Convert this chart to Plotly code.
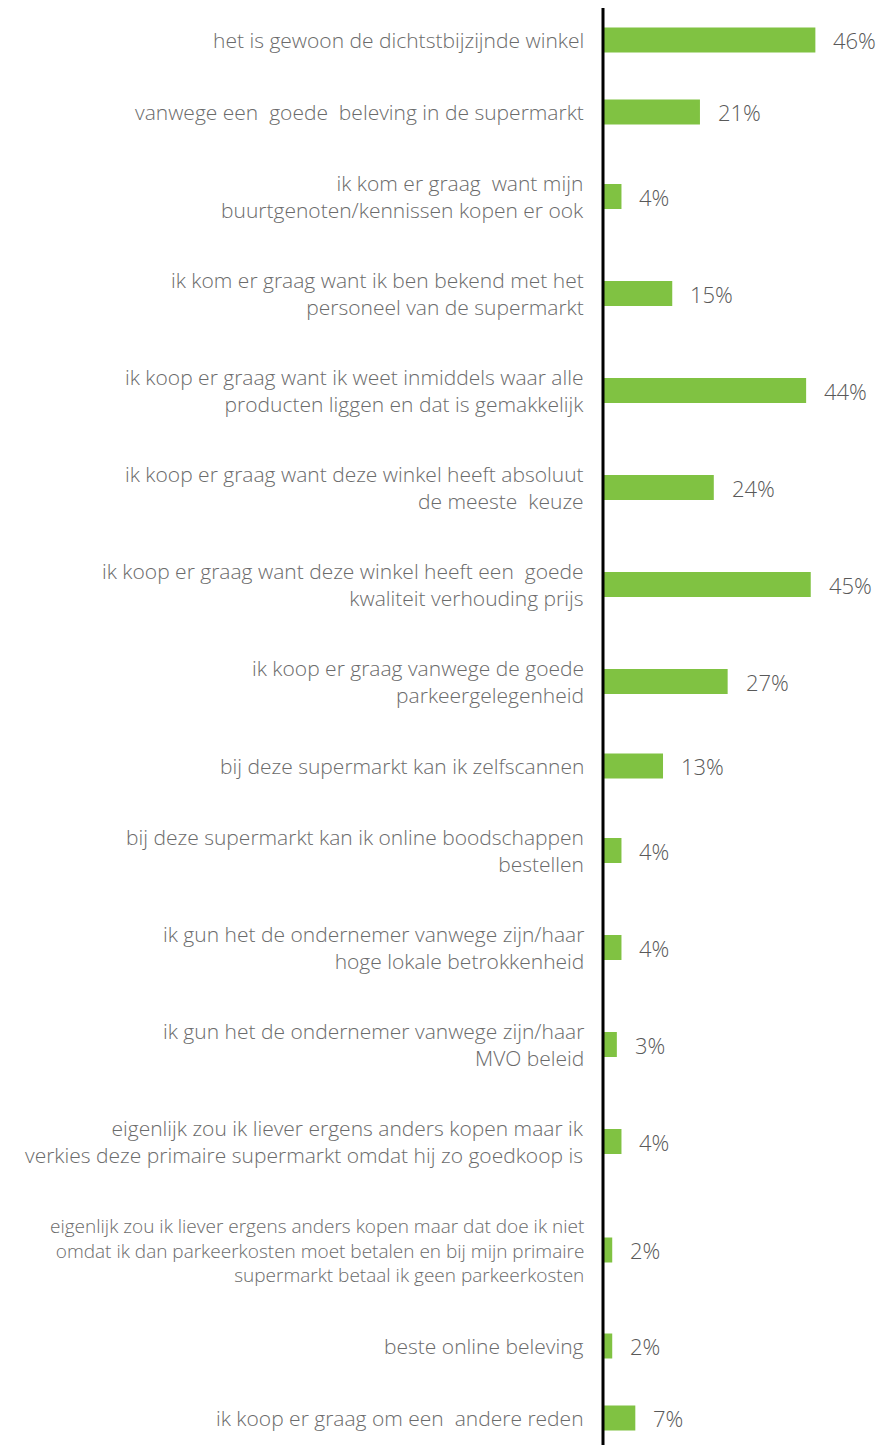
import plotly.graph_objects as go

# Reasons for choosing the primary supermarket (share of respondents, %)
reasons = [
    "het is gewoon de dichtstbijzijnde winkel",
    "vanwege een  goede  beleving in de supermarkt",
    "ik kom er graag  want mijn<br>buurtgenoten/kennissen kopen er ook",
    "ik kom er graag want ik ben bekend met het<br>personeel van de supermarkt",
    "ik koop er graag want ik weet inmiddels waar alle<br>producten liggen en dat is gemakkelijk",
    "ik koop er graag want deze winkel heeft absoluut<br>de meeste  keuze",
    "ik koop er graag want deze winkel heeft een  goede<br>kwaliteit verhouding prijs",
    "ik koop er graag vanwege de goede<br>parkeergelegenheid",
    "bij deze supermarkt kan ik zelfscannen",
    "bij deze supermarkt kan ik online boodschappen<br>bestellen",
    "ik gun het de ondernemer vanwege zijn/haar<br>hoge lokale betrokkenheid",
    "ik gun het de ondernemer vanwege zijn/haar<br>MVO beleid",
    "eigenlijk zou ik liever ergens anders kopen maar ik<br>verkies deze primaire supermarkt omdat hij zo goedkoop is",
    "eigenlijk zou ik liever ergens anders kopen maar dat doe ik niet<br>omdat ik dan parkeerkosten moet betalen en bij mijn primaire<br>supermarkt betaal ik geen parkeerkosten",
    "beste online beleving",
    "ik koop er graag om een  andere reden",
]
shares = [46, 21, 4, 15, 44, 24, 45, 27, 13, 4, 4, 3, 4, 2, 2, 7]

GREEN = "#80C242"
LABEL_GREY = "#6b6b6b"
VALUE_GREY = "#595959"
FONT = "Open Sans"

# Row height grows with the number of text lines in the label
row_h = {1: 1.0, 2: 97 / 72, 3: 120 / 72}
lines = [r.count("<br>") + 1 for r in reasons]
pos = [0.0]
for a, b in zip(lines[:-1], lines[1:]):
    pos.append(pos[-1] + (row_h[a] + row_h[b]) / 2)

H, W = 1445, 880
px_per_row = 72.0
top_pad = 40 / px_per_row
y_range = [H / px_per_row - top_pad, -top_pad]

# Horizontal scale: leave a few pixels left of zero so the axis line is not clipped
left_margin = 596
px_per_pct = 277 / 60
x_min = -(603 - left_margin) / px_per_pct

fig = go.Figure(
    go.Bar(
        x=shares,
        y=pos,
        orientation="h",
        marker=dict(color=GREEN, line=dict(width=0)),
        width=25 / px_per_row,
        hoverinfo="skip",
    )
)

annotations = []
for r, n, y, v in zip(reasons, lines, pos, shares):
    annotations.append(dict(
        x=0, xref="x", y=y, yref="y", text=r, showarrow=False,
        xanchor="right", yanchor="middle", align="right", xshift=-17,
        font=dict(family=FONT, size=21 if n < 3 else 19, color=LABEL_GREY, weight=300),
    ))
    annotations.append(dict(
        x=v, xref="x", y=y, yref="y", text=f"{v}%", showarrow=False,
        xanchor="left", yanchor="middle", xshift=16,
        font=dict(family=FONT, size=22, color=VALUE_GREY, weight=300),
    ))

fig.update_layout(
    width=W, height=H,
    margin=dict(l=left_margin, r=0, t=0, b=0),
    paper_bgcolor="white", plot_bgcolor="white",
    showlegend=False,
    xaxis=dict(range=[x_min, 60], visible=False, fixedrange=True),
    yaxis=dict(range=y_range, visible=False, fixedrange=True),
    annotations=annotations,
    shapes=[dict(
        type="line", xref="x", yref="paper", x0=0, x1=0,
        y0=0, y1=1 - 8 / H, line=dict(color="black", width=3),
        layer="above",
    )],
)

fig.write_html("out.html")
